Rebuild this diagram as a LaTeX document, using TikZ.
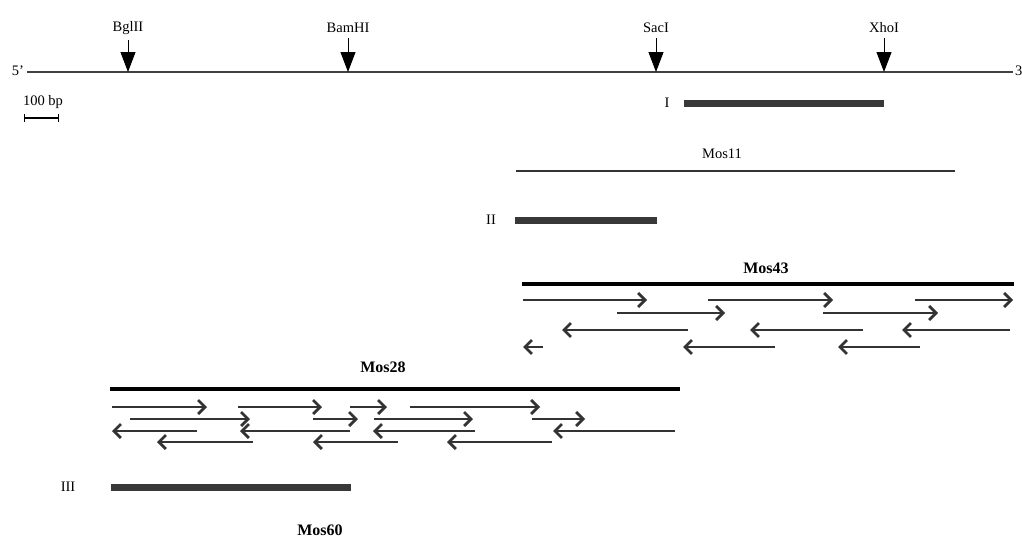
\documentclass[tikz,border=0pt]{standalone}
\usepackage{fontspec}
\setmainfont{Liberation Serif}
\usetikzlibrary{arrows.meta}
\tikzset{
  lab/.style={font=\fontsize{14.5}{16}\selectfont, inner sep=0pt},
  blab/.style={font=\fontsize{16}{18}\selectfont\bfseries, inner sep=0pt},
  site/.style={line width=0.9pt, -{Triangle[length=20pt,width=15pt]}},
  probe/.style={line width=7pt, draw=black!78},
  read/.style={line width=1.4pt, draw=black!80, -{Straight Barb[length=7pt,width=14pt,line width=2.8pt]}},
  clone/.style={line width=4.5pt},
}
\begin{document}
\begin{tikzpicture}[x=1pt,y=-1pt]
\useasboundingbox (0,0) rectangle (1022,541);
% map line
\node[lab] (five) at (18,71) {5'};
\node[lab, anchor=west] (three) at (1015,71) {3'};
\coordinate (mapL) at (27,72);
\coordinate (mapR) at (1013,72);
\draw[line width=1.6pt, black!75] (mapL) -- (mapR);
% restriction sites
\node[lab] (bgl) at (128,28) {BglII};
\node[lab] (bam) at (348,28) {BamHI};
\node[lab] (sac) at (656,28) {SacI};
\node[lab] (xho) at (884,28) {XhoI};
\coordinate (sbgl) at (128,72);
\coordinate (sbam) at (348,72);
\coordinate (ssac) at (656,72);
\coordinate (sxho) at (884,72);
\draw[site] (bgl.south) ++(0,5) -- (sbgl);
\draw[site] (bam.south) ++(0,5) -- (sbam);
\draw[site] (sac.south) ++(0,5) -- (ssac);
\draw[site] (xho.south) ++(0,5) -- (sxho);
% scale bar
\node[lab] (bp) at (43,102) {100 bp};
\coordinate (sbL) at (24,118);
\coordinate (sbR) at (59,118);
\draw[line width=1.2pt, |-|] (sbL) -- (sbR);
% probe I
\node[lab] (pI) at (667,103) {I};
\coordinate (pIL) at (684,103);
\coordinate (pIR) at (884,103);
\draw[probe] (pIL) -- (pIR);
% Mos11
\node[lab] (m11) at (722,154) {Mos11};
\coordinate (m11L) at (516,171);
\coordinate (m11R) at (955,171);
\draw[line width=1.4pt, black!80] (m11L) -- (m11R);
% probe II
\node[lab] (pII) at (491,220) {II};
\coordinate (pIIL) at (515,220);
\coordinate (pIIR) at (657,220);
\draw[probe] (pIIL) -- (pIIR);
% Mos43
\node[blab] (m43) at (766,268) {Mos43};
\coordinate (m43L) at (522,284);
\coordinate (m43R) at (1014,284);
\draw[clone] (m43L) -- (m43R);
\foreach \a/\b/\y in {523/647/300, 708/833/300, 915/1013/300,
                      617/725/313, 823/938/313,
                      688/562/330, 863/750/330, 1010/902/330,
                      543/523/347, 775/683/347, 920/838/347}
  \draw[read] (\a,\y) -- (\b,\y);
% Mos28
\node[blab] (m28) at (383,367) {Mos28};
\coordinate (m28L) at (110,389);
\coordinate (m28R) at (680,389);
\draw[line width=4pt] (m28L) -- (m28R);
\foreach \a/\b/\y in {112/207/407, 238/322/407, 350/387/407, 410/540/407,
                      130/250/419, 313/358/419, 374/473/419, 532/585/419,
                      197/112/431, 350/240/431, 475/373/431, 675/553/431,
                      253/157/442, 398/313/442, 552/447/442}
  \draw[read] (\a,\y) -- (\b,\y);
% probe III
\node[lab] (pIII) at (68,487) {III};
\coordinate (pIIIL) at (111,487);
\coordinate (pIIIR) at (351,487);
\draw[probe] (pIIIL) -- (pIIIR);
% Mos60
\node[blab] (m60) at (320,530) {Mos60};
\end{tikzpicture}
\end{document}
